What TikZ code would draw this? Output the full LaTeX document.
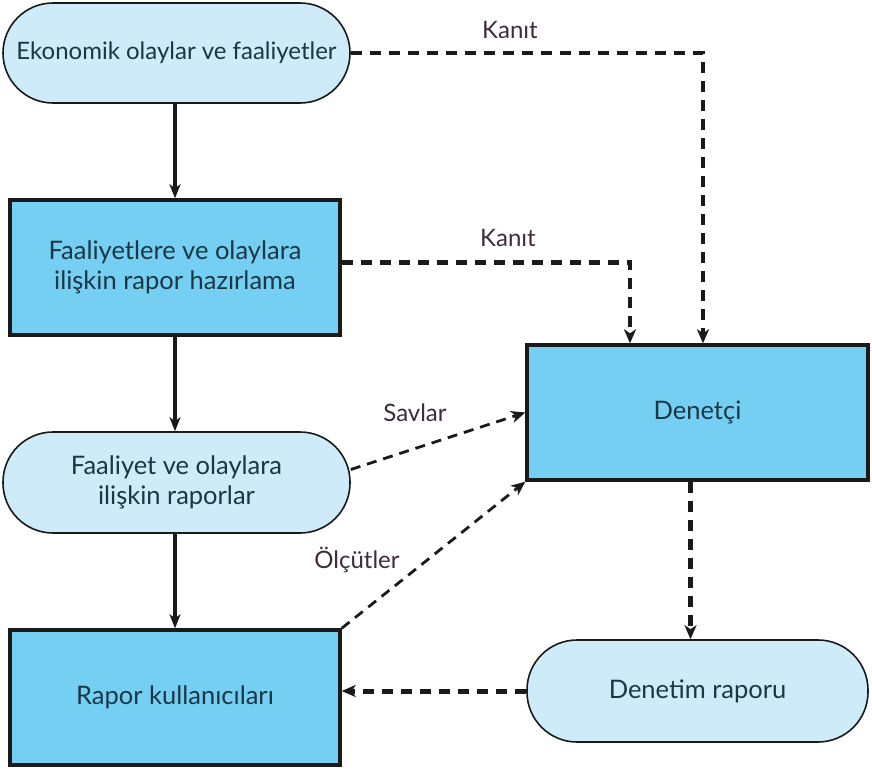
\documentclass[tikz,border=0pt]{standalone}
\usepackage{fontspec}
\setmainfont{Lato}
\usetikzlibrary{arrows.meta,calc}
\definecolor{boxfill}{HTML}{74CFF3}
\definecolor{pillfill}{HTML}{CDEBF9}
\definecolor{edge}{HTML}{1A1A1A}
\definecolor{txt}{HTML}{1B3645}
\definecolor{lbl}{HTML}{3E2C3C}
\begin{document}
\begin{tikzpicture}[x=1pt,y=1pt,
  pill/.style={draw=edge,line width=1.6pt,fill=pillfill,rounded corners=50pt,
    align=center,text=txt,font=\fontsize{25.5}{30}\selectfont,inner sep=0pt},
  boxnode/.style={draw=edge,line width=3.4pt,fill=boxfill,align=center,
    text=txt,font=\fontsize{25.5}{30}\selectfont,inner sep=0pt},
  solidarrow/.style={draw=edge,line width=3.4pt,-{Stealth[length=14pt,width=11pt,inset=4pt]}},
  thickdash/.style={draw=edge,line width=4.2pt,dash pattern=on 11pt off 8pt,
    -{Stealth[length=14pt,width=12pt,inset=4pt]}},
  thindash/.style={draw=edge,line width=2.8pt,dash pattern=on 10pt off 7pt,
    -{Stealth[length=14pt,width=12pt,inset=4pt]}},
  lab/.style={text=lbl,font=\fontsize{24}{26}\selectfont,inner sep=0pt}
]
\useasboundingbox (0,0) rectangle (872,-771);
\fill[white] (0,0) rectangle (872,-771);

\node[pill,minimum width=347pt,minimum height=100pt] (eko) at (176.5,-53)
  {\fontsize{24}{28}\selectfont Ekonomik olaylar ve faaliyetler};
\node[boxnode,minimum width=330pt,minimum height=135pt] (fr) at (175,-267.5)
  {Faaliyetlere ve olaylara\\ilişkin rapor hazırlama};
\node[pill,minimum width=347pt,minimum height=101pt] (fo) at (176.5,-482.5)
  {Faaliyet ve olaylara\\ilişkin raporlar};
\node[boxnode,minimum width=330pt,minimum height=135pt] (rk) at (175,-697.5)
  {Rapor kullanıcıları};
\node[boxnode,minimum width=341pt,minimum height=135pt] (den) at (697.5,-412.5)
  {Denetçi};
\node[pill,minimum width=341pt,minimum height=102pt] (dr) at (697.5,-691)
  {Denetim raporu};

\node[lab] (k1) at (510,-30) {Kanıt};
\node[lab] (k2) at (508,-238) {Kanıt};
\node[lab] (sv) at (415,-413) {Savlar};
\node[lab] (ol) at (357,-560) {Ölçütler};

\draw[solidarrow] (eko.south -| fr.north) -- (fr.north);
\draw[solidarrow] (fr.south) -- (fr.south |- fo.north);
\draw[solidarrow] (fo.south -| rk.north) -- (rk.north);

\draw[thickdash] (eko.east) -| ([xshift=5.5pt]den.north);
\draw[thickdash] ([yshift=5pt]fr.east) -| ([xshift=-67.5pt]den.north);
\draw[thindash] ([yshift=13pt]fo.east) -- (den.west);
\draw[thindash] (rk.north east) -- (den.south west);
\draw[thickdash,line width=5pt] ([xshift=-7pt]den.south) -- ([xshift=-7pt]dr.north);
\draw[thickdash,line width=5pt] (dr.west) -- (dr.west -| rk.east);
\end{tikzpicture}
\end{document}
